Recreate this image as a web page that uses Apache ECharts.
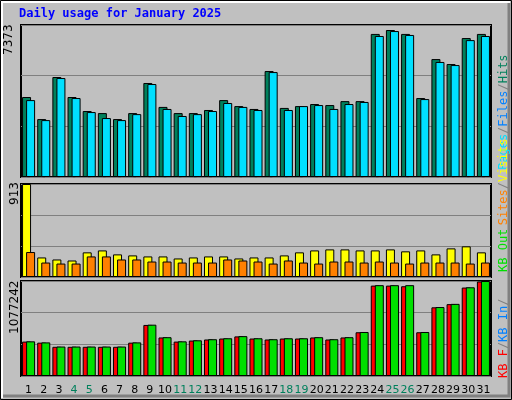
<!DOCTYPE html><html><head><meta charset="utf-8"><script src="https://cdn.jsdelivr.net/npm/echarts@6/dist/echarts.min.js"></script>
<style>body{margin:0}#c{width:512px;height:400px}</style></head><body><div id="c"></div><script>
const days=['1','2','3','4','5','6','7','8','9','10','11','12','13','14','15','16','17','18','19','20','21','22','23','24','25','26','27','28','29','30','31'];
const weekends=['4','5','11','12','18','19','25','26'];
const hits=[3880,2810,4850,3880,3200,3100,2810,3100,4560,3400,3100,3100,3250,3730,3440,3300,5140,3350,3440,3540,3490,3680,3680,6940,7130,6940,3830,5720,5480,6740,6940];
const files=[3730,2760,4800,3830,3150,2860,2760,3050,4510,3300,2960,3050,3200,3590,3400,3250,5090,3250,3440,3490,3300,3540,3640,6840,7080,6890,3780,5580,5430,6640,6840];
const pages=[3490,2520,4220,3540,2960,2710,2570,2910,4410,3100,2810,2910,3000,3240,3200,3100,4560,3000,3150,3250,3000,3340,3340,6600,6900,6700,3490,5300,5150,6500,6650];
const visits=[913,192,172,162,242,261,222,212,202,202,182,192,202,202,182,192,192,212,242,261,271,271,261,261,271,252,261,222,281,301,242];
const sites=[245,142,132,132,202,202,172,172,152,152,142,142,142,172,162,152,132,162,142,132,152,152,142,152,142,132,142,142,142,132,142];
const kbIn=[393000,381000,334000,334000,334000,334000,334000,381000,582000,440000,393000,405000,417000,428000,452000,428000,417000,428000,428000,440000,417000,440000,499000,1030000,1030000,1030000,499000,782000,818000,1006000,1077242];
const kbF=[390000,378000,331000,331000,331000,331000,331000,378000,579000,437000,390000,402000,414000,425000,449000,425000,414000,425000,425000,437000,414000,437000,496000,1025000,1025000,1018000,496000,779000,815000,1003000,1072000];
const maxTop=7373,maxMid=913,maxBot=1077242;
const ch=echarts.init(document.getElementById('c'));
const grids=[{left:21,right:21,top:25,height:152},{left:21,right:21,top:184,height:93},{left:21,right:21,top:281,height:95}];
const F='DejaVu Sans Mono';
function xa(g,show){return {type:'category',gridIndex:g,data:days,axisTick:{show:false},axisLine:{show:false},
 axisLabel:{show:show,interval:0,fontFamily:'DejaVu Sans',fontSize:11,margin:9,color:v=>weekends.includes(v)?'#00805c':'#000'}};}
function ya(g,max){return {type:'value',gridIndex:g,min:0,max:max,interval:max/3,axisLabel:{show:false},axisLine:{show:false},axisTick:{show:false},splitLine:{lineStyle:{color:'#808080',width:1}}};}
const bs={borderColor:'#000',borderWidth:1};
function bar(x,y,d,c,w,gap){return {type:'bar',xAxisIndex:x,yAxisIndex:y,data:d,barWidth:w,barGap:gap,itemStyle:Object.assign({color:c},bs),animation:false};}
ch.setOption({backgroundColor:'#c0c0c0',animation:false,
grid:grids.map(g=>Object.assign({show:true,borderColor:'#000',borderWidth:2,backgroundColor:'#c0c0c0'},g)),
xAxis:[xa(0,false),xa(1,false),xa(2,true),xa(0,false)],
yAxis:[ya(0,maxTop),ya(1,maxMid),ya(2,maxBot)],
series:[bar(0,0,hits,'#00805c',9,'-55%'),bar(0,0,files,'#00e0ff',9,'-55%'),
 {type:'bar',xAxisIndex:3,yAxisIndex:0,data:pages,barWidth:3,itemStyle:{color:'#0000ff',borderColor:'#000',borderWidth:0.5},barGap:'0%',z:1},
 bar(1,1,visits,'#ffff00',9,'-55%'),bar(1,1,sites,'#ff8000',9,'-55%'),
 bar(2,2,kbF,'#ff0000',9,'-55%'),bar(2,2,kbIn,'#00e000',9,'-55%')],
graphic:[
 {type:'rect',shape:{x:0.5,y:0.5,width:511,height:399},style:{fill:'none',stroke:'#000',lineWidth:1}},
 {type:'polyline',shape:{points:[[2,398],[2,2],[510,2]]},style:{stroke:'#fff',lineWidth:2,fill:'none'}},
 {type:'polyline',shape:{points:[[3,396],[509,396],[509,3]]},style:{stroke:'#808080',lineWidth:3,fill:'none'}},
 {type:'text',left:19,top:8,style:{text:'Daily usage for January 2025',fill:'#0000ff',font:'bold 12px "DejaVu Sans Mono"'}},
 {type:'text',x:9,y:55,rotation:Math.PI/2,style:{text:'7373',fill:'#000',font:'12px "DejaVu Sans"',textAlign:'left',textVerticalAlign:'middle'},originX:0,originY:0},
 {type:'text',x:9,y:205,rotation:Math.PI/2,style:{text:'913',fill:'#000',font:'12px "DejaVu Sans"'}},
 {type:'text',x:9,y:334,rotation:Math.PI/2,style:{text:'1077242',fill:'#000',font:'12px "DejaVu Sans"'}},
 {type:'text',x:498,y:170,rotation:Math.PI/2,style:{rich:{a:{fill:'#00e0ff',font:'12px "DejaVu Sans Mono"'},b:{fill:'#808080',font:'12px "DejaVu Sans Mono"'},c:{fill:'#0080ff',font:'12px "DejaVu Sans Mono"'},d:{fill:'#00805c',font:'12px "DejaVu Sans Mono"'}},text:'{a|Pages}{b|/}{c|Files}{b|/}{d|Hits}'}},
 {type:'text',x:498,y:272,rotation:Math.PI/2,style:{rich:{a:{fill:'#ffff00',font:'12px "DejaVu Sans Mono"'},b:{fill:'#808080',font:'12px "DejaVu Sans Mono"'},c:{fill:'#ff8000',font:'12px "DejaVu Sans Mono"'},d:{fill:'#00e000',font:'12px "DejaVu Sans Mono"'}},text:'{d|KB Out} {c|Sites}{b|/}{a|Visits}'}},
 {type:'text',x:498,y:378,rotation:Math.PI/2,style:{rich:{a:{fill:'#ff0000',font:'12px "DejaVu Sans Mono"'},b:{fill:'#808080',font:'12px "DejaVu Sans Mono"'},c:{fill:'#0080ff',font:'12px "DejaVu Sans Mono"'}},text:'{a|KB F}{b|/}{c|KB In}{b|/}'}}
]});
</script></body></html>
